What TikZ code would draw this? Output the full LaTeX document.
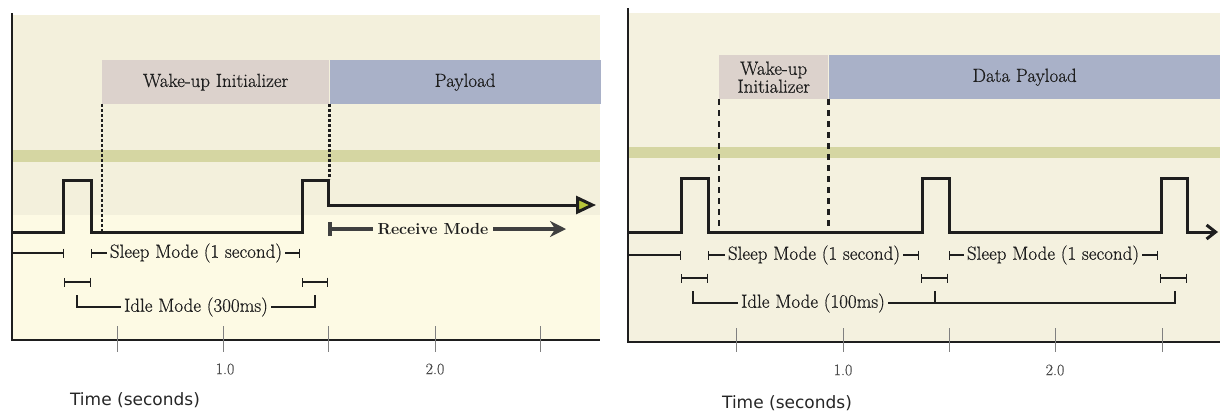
\documentclass[tikz,border=0pt]{standalone}
\usepackage{fontspec}
\newfontfamily\timefont{DejaVu Sans}
\newfontfamily\labelfont{Latin Modern Roman}[FakeBold=0.5]
\usepackage[dvipsnames]{xcolor}
\usetikzlibrary{arrows.meta}
\usetikzlibrary{positioning}
\usetikzlibrary{calc}

\definecolor{bgtop}{HTML}{F3F0DC}
\definecolor{bglow}{HTML}{FDFAE4}
\definecolor{bgright}{HTML}{F4F1DF}
\definecolor{wakefill}{HTML}{DCD2CC}
\definecolor{payfill}{HTML}{A9B1C8}
\definecolor{bandcol}{HTML}{D5D6A2}
\definecolor{ink}{HTML}{1E1E1E}
\definecolor{tipgreen}{HTML}{B7C53A}

\begin{document}
\begin{tikzpicture}[x=1pt,y=-1pt,
		lbl/.style={font=\labelfont\fontsize{19}{20}\selectfont, text=ink, inner sep=3pt},
		box/.style={font=\labelfont\fontsize{19}{18}\selectfont, text=ink, anchor=north west, minimum height=44pt, inner sep=0pt, align=center},
		signal/.style={line width=3pt, ink, line join=miter},
		guide/.style={line width=2.2pt, ink, dash pattern=on 3pt off 2pt},
		span/.style={line width=1.3pt, ink, {Bar[width=9pt]}-{Bar[width=9pt]}},
		axisline/.style={line width=2pt, ink},
		tickline/.style={line width=1pt, black!50},
		ticklbl/.style={font=\labelfont\fontsize{16}{17}\selectfont, text=black!70, inner sep=0pt},
		timelbl/.style={font=\timefont\fontsize{17}{19}\selectfont, text=black!85}]
	\useasboundingbox (0,0) rectangle (1220,416);
	
	%left panel
	\fill[bgtop] (12,15) rectangle (600,215);
	\fill[bglow] (12,215) rectangle (600,340);
	\fill[bandcol] (12,150) rectangle (600,162);
	\node[box, fill=wakefill, minimum width=227pt] (wakeA) at (102,60) {Wake-up Initializer};
	\node[box, fill=payfill, minimum width=271pt] (payA) at (wakeA.north east) {Payload};
	\draw[guide] (wakeA.south west) -- ++(0,127);
	\draw[guide] (wakeA.south east) -- ++(0,75);
	
	% signal
	\draw[signal, -{Triangle[length=20pt,width=18pt,fill=tipgreen]}] (12,232) -| (63,180) -| (91,232) -| (302,180) -| (328,205) -- (596,205);
	\coordinate (rcvS) at (328,229);
	\coordinate (rcvE) at (566,229);
	\draw[line width=4pt, ink!85, {Bar[width=14pt]}-{Stealth[length=16pt,width=16pt]}] (rcvS) -- (rcvE);
	\node[font=\bfseries\fontsize{16}{18}\selectfont, text=ink, fill=bglow, inner sep=5pt] (rcvA) at (433,229) {Receive Mode};
	
	% intervals
	\draw[line width=1.3pt, ink, -{Bar[width=9pt]}] (12,253) -- (64,253);
	\draw[span] (91,253) -- (300,253);
	\node[lbl, fill=bglow] (sleepA) at (196,253) {Sleep Mode (1 second)};
	\draw[span] (64,282) -- (91,282);
	\draw[span] (302,282) -- (328,282);
	\draw[line width=1.2pt, ink] (77,295) |- (315,307) -- (315,295);
	\node[lbl, fill=bglow] (idleA) at (196,307) {Idle Mode (300ms)};
	
	% axes
	\draw[axisline] (12,13) -- (12,340) -- (600,340);
	\foreach \x in {117,223,328,435,540}
		\draw[tickline] (\x,326) -- (\x,352);
	\node[ticklbl] (oneA) at (225,369) {1.0};
	\node[ticklbl] (twoA) at (435,369) {2.0};
	\node[timelbl] (timeA) at (135,400) {Time (seconds)};
	
	%right panel
	\fill[bgright] (628,13) rectangle (1220,342);
	\fill[bandcol] (628,147) rectangle (1220,158);
	\node[box, fill=wakefill, minimum width=109pt] (wakeB) at (719,55) {Wake-up\\Initializer};
	\node[box, fill=payfill, minimum width=392pt] (payB) at (wakeB.north east) {Data Payload};
	\draw[guide, dash pattern=on 6pt off 5pt] (wakeB.south west) -- ++(0,133);
	\draw[guide, dash pattern=on 6pt off 5pt] (wakeB.south east) -- ++(0,133);
	
	% signal
	\draw[signal, -{Straight Barb[length=9pt,width=14pt]}] (628,232) -| (681,178) -| (708,232) -| (922,178) -| (949,232) -| (1161,178) -| (1187,232) -- (1218,232);
	
	% intervals
	\draw[line width=1.3pt, ink, -{Bar[width=9pt]}] (628,255) -- (681,255);
	\draw[span] (708,255) -- (919,255);
	\node[lbl, fill=bgright] (sleepB) at (814,255) {Sleep Mode (1 second)};
	\draw[span] (949,255) -- (1158,255);
	\node[lbl, fill=bgright] (sleepC) at (1053,255) {Sleep Mode (1 second)};
	\draw[span] (681,278) -- (708,278);
	\draw[span] (921,278) -- (948,278);
	\draw[span] (1160,278) -- (1187,278);
	\draw[line width=1.2pt, ink] (693,291) |- (1175,303) -- (1175,291);
	\draw[line width=1.2pt, ink] (935,291) -- (935,303);
	\node[lbl, fill=bgright] (idleB) at (813,303) {Idle Mode (100ms)};
	
	% axes
	\draw[axisline] (628,8) -- (628,342) -- (1220,342);
	\foreach \x in {736,843,949,1055,1162}
		\draw[tickline] (\x,328) -- (\x,352);
	\node[ticklbl] (oneB) at (843,370) {1.0};
	\node[ticklbl] (twoB) at (1055,370) {2.0};
	\node[timelbl] (timeB) at (787,403) {Time (seconds)};
\end{tikzpicture}
\end{document}
